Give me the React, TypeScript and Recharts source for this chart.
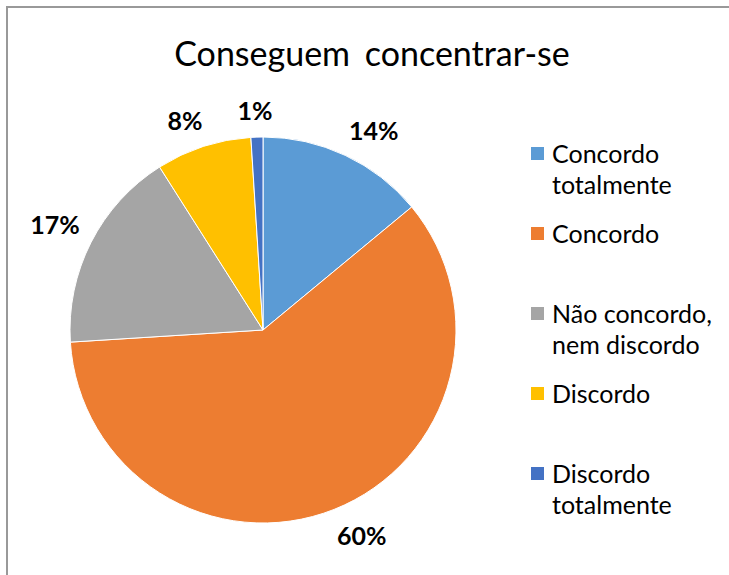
import React from 'react';
import { PieChart, Pie, Cell, Legend } from 'recharts';

const categories = [
  'Concordo totalmente',
  'Concordo',
  'Não concordo, nem discordo',
  'Discordo',
  'Discordo totalmente',
];
const percentages = [14, 60, 17, 8, 1];
const colors = ['#5B9BD5', '#ED7D31', '#A5A5A5', '#FFC000', '#4472C4'];
const title = 'Conseguem concentrar-se';

const data = categories.map((name, i) => ({ name, value: percentages[i] }));

const FONT = 'Lato, "DejaVu Sans", sans-serif';
const LABEL_SIZE = 25;
const RAD = Math.PI / 180;

const clamp = (v: number) => Math.max(-1, Math.min(1, v));

const renderLabel = (props: any) => {
  const { cx, cy, midAngle, outerRadius, value } = props;
  const text = `${value}%`;
  const cos = Math.cos(-midAngle * RAD);
  const sin = Math.sin(-midAngle * RAD);
  const r = outerRadius + 16;
  const px = cx + r * cos;
  const py = cy + r * sin;
  const hw = text.length * LABEL_SIZE * 0.29;
  const hh = 11;
  const x = px + hw * clamp(cos * 3);
  const y = py + hh * clamp(sin * 3);
  return (
    <text
      x={x}
      y={y}
      textAnchor="middle"
      dominantBaseline="central"
      fontFamily={FONT}
      fontWeight={700}
      fontSize={LABEL_SIZE}
      fill="#000"
    >
      {text}
    </text>
  );
};

const renderLegend = (props: any) => {
  const payload = [...(props.payload || [])].sort(
    (a: any, b: any) => categories.indexOf(a.value) - categories.indexOf(b.value)
  );
  return (
    <div style={{ fontFamily: FONT, fontSize: 25, lineHeight: '31px', color: '#000' }}>
      {payload.map((entry: any, i: number) => (
        <div
          key={i}
          style={{ height: 80, display: 'flex', alignItems: 'flex-start' }}
        >
          <div
            style={{
              width: 13,
              height: 13,
              background: entry.color,
              marginTop: 9,
              marginRight: 8,
              flex: '0 0 auto',
            }}
          />
          <div style={{ width: 170 }}>{entry.value}</div>
        </div>
      ))}
    </div>
  );
};

export default function App() {
  return (
    <div
      style={{
        position: 'absolute',
        left: 0,
        top: 0,
        width: 729,
        height: 575,
        overflow: 'hidden',
        background: '#fff',
      }}
    >
      <div
        style={{
          position: 'absolute',
          left: 6,
          top: 6,
          width: 800,
          height: 700,
          border: '2px solid #999',
        }}
      />
      <div
        style={{
          position: 'absolute',
          left: 0,
          top: 33,
          width: 744,
          textAlign: 'center',
          fontFamily: FONT,
          fontSize: 34,
          color: '#000',
          lineHeight: '40px',
          wordSpacing: 6,
        }}
      >
        {title}
      </div>
      <div style={{ position: 'absolute', left: 0, top: 0 }}>
        <PieChart width={729} height={575} margin={{ top: 0, right: 0, bottom: 0, left: 0 }}>
          <Pie
            data={data}
            dataKey="value"
            nameKey="name"
            cx={263}
            cy={330}
            outerRadius={193}
            startAngle={90}
            endAngle={-270}
            stroke="#fff"
            strokeWidth={1}
            label={renderLabel}
            labelLine={false}
            isAnimationActive={false}
          >
            {data.map((d, i) => (
              <Cell key={d.name} fill={colors[i]} />
            ))}
          </Pie>
          <Legend
            layout="vertical"
            content={renderLegend}
            wrapperStyle={{ position: 'absolute', left: 531, top: 138, width: 200 }}
          />
        </PieChart>
      </div>
    </div>
  );
}
